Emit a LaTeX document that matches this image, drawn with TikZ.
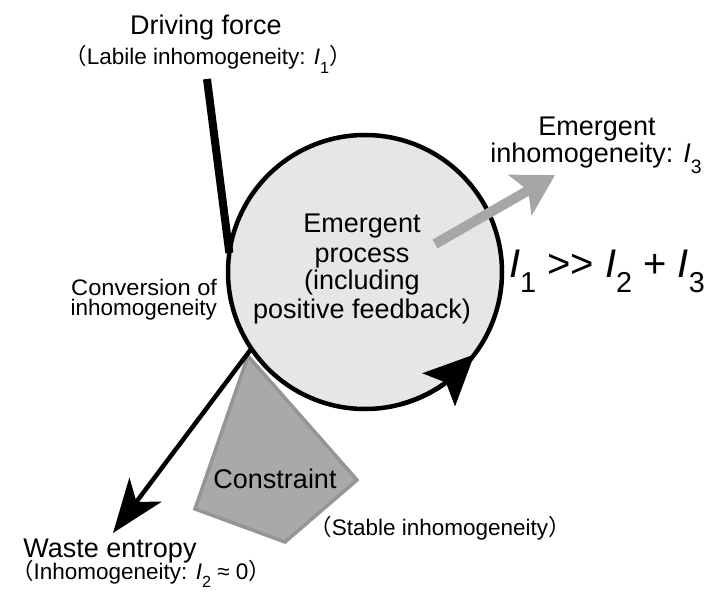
\documentclass[tikz,border=0pt]{standalone}
\usepackage{fontspec}
\usepackage{graphicx}
\setmainfont{Liberation Sans}
\newfontfamily\cjk{Noto Sans CJK JP}
\usetikzlibrary{arrows.meta,bending}
\newcommand\Isub[1]{\textit{I}\raisebox{-0.38em}{\scalebox{0.72}{#1}}}
\newcommand\lpar{{\cjk （}}
\newcommand\rpar{{\cjk ）}}
\definecolor{circfill}{HTML}{E6E6E6}
\definecolor{emgray}{HTML}{A6A6A6}
\definecolor{consfill}{HTML}{A9A9A9}
\definecolor{consline}{HTML}{959595}
\begin{document}
\begin{tikzpicture}[x=1pt,y=-1pt,
  bigtxt/.style={font=\fontsize{27}{28.5}\selectfont, inner sep=0pt, outer sep=0pt},
  smalltxt/.style={font=\fontsize{22.5}{24}\selectfont, inner sep=0pt, outer sep=0pt},
  convtxt/.style={font=\fontsize{22.5}{24}\selectfont, inner sep=0pt, outer sep=0pt},
  formula/.style={font=\fontsize{40}{44}\selectfont, inner sep=0pt, outer sep=0pt},
  blackarrow/.style={line width=4.5pt, -{Stealth[length=54pt,width=40pt,inset=15pt]}},
]
\useasboundingbox (0,0) rectangle (707,596);

% main circle
\node[circle, draw, line width=4.5pt, fill=circfill, minimum size=274pt,
      inner sep=0pt, outer sep=0pt] (c) at (365,272) {};

% constraint polygon
\draw[line width=3.5pt, draw=consline, fill=consfill, line join=miter]
  (248,356) -- (357,480) -- (285,542) -- (195,509) -- cycle;

% circulating arrow on the circle
\draw[line width=4.5pt, -{Stealth[length=50pt,width=46pt,inset=10pt]}]
  (c.-75) arc[start angle=75, end angle=37, radius=137];

% driving force line
\coordinate (dftop) at (207,79);
\draw[line width=8pt] (dftop) -- (c.172);

% waste entropy arrow
\coordinate (wastetip) at (113,533);
\draw[blackarrow] (c.214) -- (wastetip);

% emergent inhomogeneity arrow
\coordinate (gstart) at (435,244);
\coordinate (gend) at (555,175);
\draw[line width=10pt, emgray, -{Stealth[length=40pt,width=46pt,inset=9pt]}] (gstart) -- (gend);

% texts
\node[bigtxt, anchor=base] (drive) at (206,35) {Driving force};
\node[smalltxt, anchor=base] (labile) at (208,65) {\lpar Labile inhomogeneity: \Isub{1}\rpar};

\node[bigtxt, anchor=base] (emtop1) at (597,136) {Emergent};
\node[bigtxt, anchor=base] (emtop2) at (596,163) {inhomogeneity: \Isub{3}};

\node[formula, anchor=base] (ineq) at (607,277) {\Isub{1} {>}{>} \Isub{2} + \Isub{3}};

\node[convtxt, anchor=base east] (conv1) at (217,295) {\scalebox{1.05}[1]{Conversion of}};
\node[convtxt, anchor=base east] (conv2) at (217,316) {inhomogeneity};

\node[bigtxt, anchor=base] (ct1) at (362,233) {Emergent};
\node[bigtxt, anchor=base] (ct2) at (362,262) {process};
\node[bigtxt, anchor=base] (ct3) at (362,290) {(including};
\node[bigtxt, anchor=base] (ct4) at (362,318) {positive feedback)};

\node[bigtxt, anchor=base] (cons) at (275,488) {Constraint};
\node[smalltxt, anchor=base] (stable) at (440,535) {\lpar Stable inhomogeneity\rpar};

\node[bigtxt, anchor=base] (waste) at (110,557) {Waste entropy};
\node[smalltxt, anchor=base] (wastesub) at (141,579) {\lpar Inhomogeneity: \Isub{2} ≈ 0\rpar};
\end{tikzpicture}
\end{document}
